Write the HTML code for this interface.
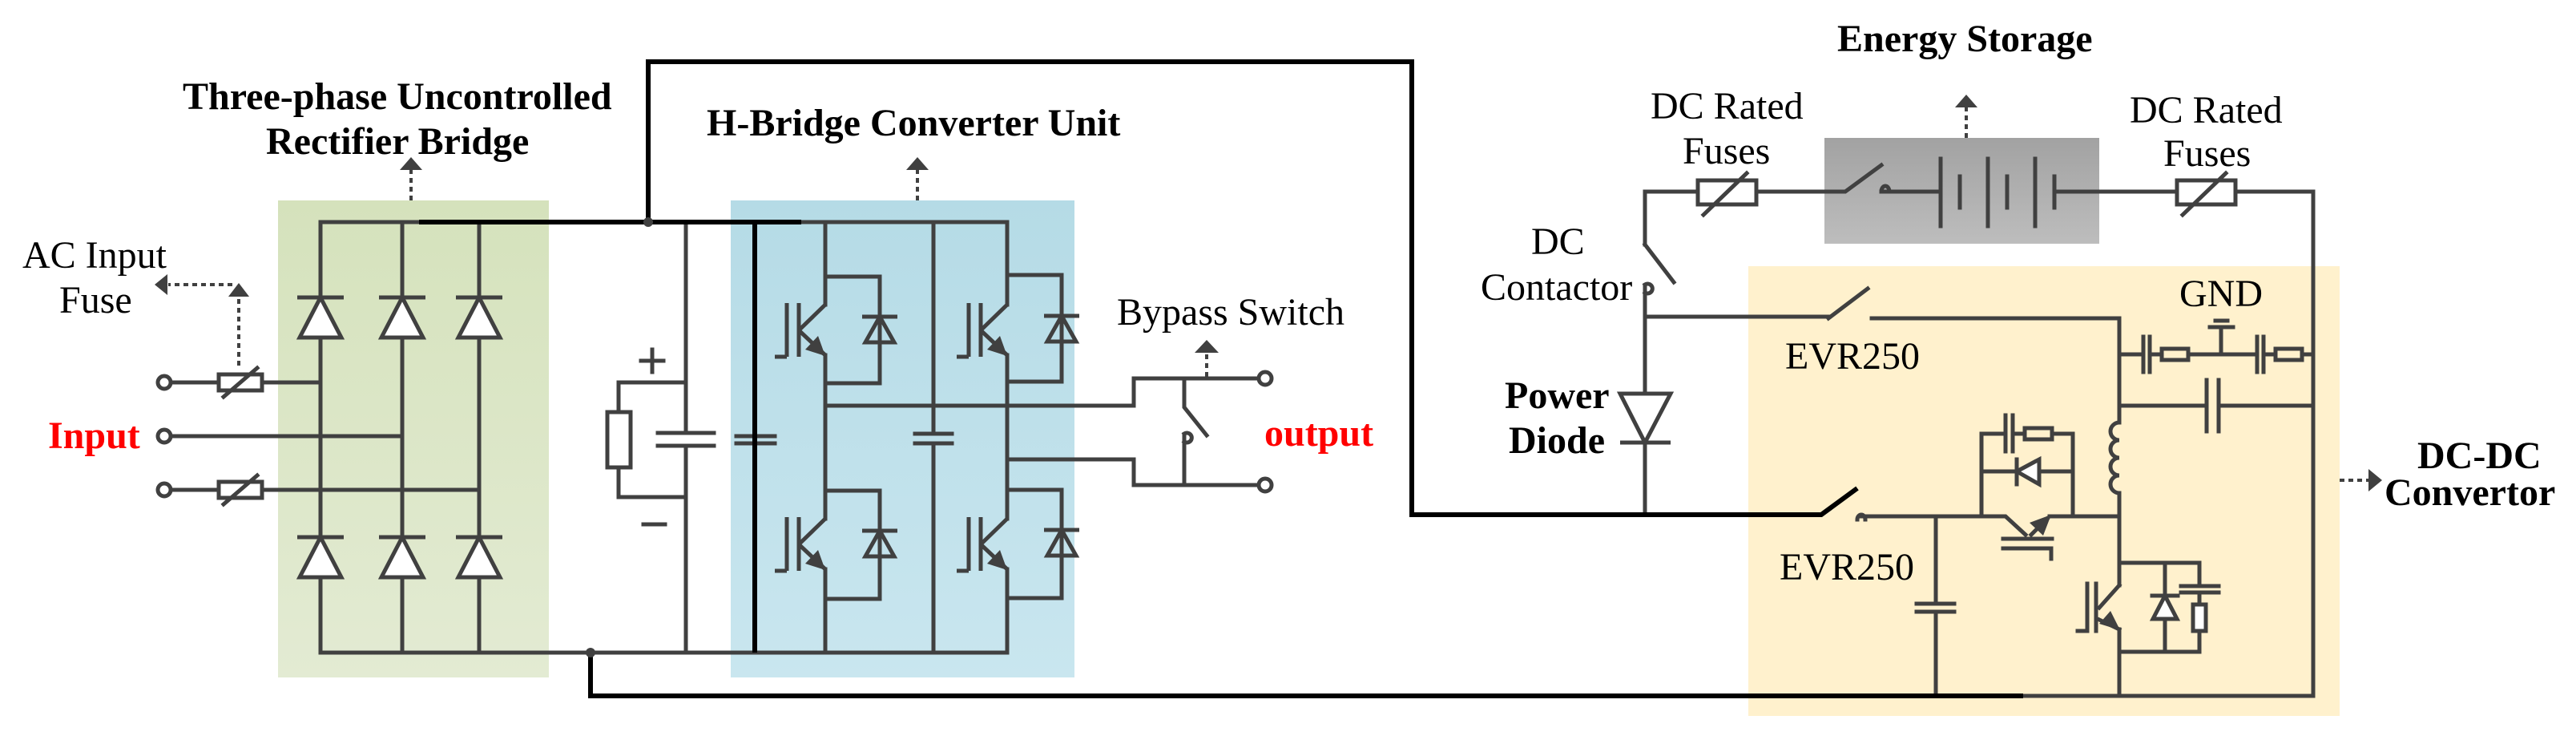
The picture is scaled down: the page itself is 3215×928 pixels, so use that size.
<!DOCTYPE html>
<html><head><meta charset="utf-8"><style>
html,body{margin:0;padding:0;background:#fff;}
svg{display:block;}
text{font-family:"Liberation Serif","DejaVu Serif",serif;font-size:48px;fill:#000;}
.b{font-weight:bold;}
.r{fill:#ff0000;font-weight:bold;}
</style></head><body>
<svg width="3215" height="928" viewBox="0 0 3215 928" xmlns="http://www.w3.org/2000/svg">
<defs>
<linearGradient id="gg" x1="0" y1="0" x2="0" y2="1"><stop offset="0" stop-color="#d5e2bc"/><stop offset="1" stop-color="#e3ebd3"/></linearGradient>
<linearGradient id="gb" x1="0" y1="0" x2="0" y2="1"><stop offset="0" stop-color="#b5dbe6"/><stop offset="1" stop-color="#c9e6ef"/></linearGradient>
<linearGradient id="gs" x1="0" y1="0" x2="0" y2="1"><stop offset="0" stop-color="#a2a2a2"/><stop offset="1" stop-color="#bdbdbd"/></linearGradient>
<g id="igbt" fill="none" stroke="#404040" stroke-width="5">
<line x1="0" y1="0" x2="-33" y2="32"/>
<line x1="-33" y1="-2" x2="-33" y2="65"/>
<line x1="-48" y1="-2" x2="-48" y2="65"/>
<line x1="-63" y1="65" x2="-48" y2="65"/>
<line x1="-33" y1="32" x2="0" y2="63"/>
<polygon points="0,64 -25,56 -9,39" fill="#404040" stroke="none"/>
</g>
<g id="dup" fill="none" stroke="#404040" stroke-width="5">
<polygon points="-18,32 18,32 0,0"/>
<line x1="-22" y1="0" x2="22" y2="0"/>
</g>
<g id="rdiode" fill="#fff" stroke="#404040" stroke-width="5">
<polygon points="-26,50 26,50 0,0"/>
<line x1="-29" y1="0" x2="29" y2="0"/>
</g>
</defs>

<rect x="347" y="250" width="338" height="595" fill="url(#gg)"/>
<rect x="912" y="250" width="429" height="595" fill="url(#gb)"/>
<rect x="2182" y="332" width="738" height="561" fill="#fff1cd"/>
<rect x="2277" y="172" width="343" height="132" fill="url(#gs)"/>

<g fill="none" stroke="#404040" stroke-width="5" stroke-linecap="square">
<path d="M400 277 H1257 M400 814 H1257"/>
<path d="M400 277 V814 M502 277 V814 M598 277 V814"/>
<path d="M213 477 H273 M327 477 H400 M213 544 H502 M213 611 H273 M327 611 H598"/>
<rect x="273" y="467" width="54" height="20"/>
<rect x="273" y="601" width="54" height="20"/>
<line x1="279" y1="495" x2="321" y2="459"/>
<line x1="279" y1="629" x2="321" y2="593"/>
<path d="M856 277 V540 M856 556 V814 M821 540 H891 M821 556 H891"/>
<path d="M856 477 H772 V514 M772 583 V620 H856"/>
<rect x="758" y="514" width="29" height="69"/>
<path d="M919 544 H967 M919 553 H967"/>
<path d="M800 450 H828 M814 436 V464 M803 654 H830"/>
<path d="M1030 277 V380 M1030 443 V647 M1030 710 V814"/>
<path d="M1257 277 V380 M1257 443 V647 M1257 710 V814"/>
<path d="M1030 345 H1098 V478 H1030 M1030 612 H1098 V747 H1030"/>
<path d="M1257 343 H1325 V476 H1257 M1257 611 H1325 V746 H1257"/>
<path d="M1165 277 V541 M1165 553 V814 M1142 541 H1188 M1142 553 H1188"/>
<path d="M1030 506 H1415 V472 H1571 M1257 573 H1415 V605 H1571"/>
<path d="M1478 472 V508 L1506 543 M1478 605 V543"/>
<path d="M1478 551 a6 6 0 1 0 0 -10"/>
<path d="M2053 642 V552 M2053 491 V395 H2282 M2336 397 H2645 M2282 397 L2331 360"/>
<path d="M2053 395 V357 M2053 305 V239 H2119 M2192 239 H2303 L2348 206 M2348 239 H2422"/>
<path d="M2053 305 L2089 352"/>
<rect x="2119" y="225" width="73" height="30"/>
<line x1="2126" y1="268" x2="2180" y2="216"/>
<path d="M2422 198 V282 M2446 220 V259 M2481 198 V282 M2505 220 V259 M2540 198 V282 M2564 220 V259"/>
<path d="M2564 239 H2717 M2790 239 H2887 V868 H2525"/>
<rect x="2717" y="225" width="73" height="30"/>
<line x1="2724" y1="268" x2="2778" y2="216"/>
<path d="M2645 397 V527 M2645 615 V730 M2645 785 V868"/>
<path d="M2645 527 a11 11 0 0 0 0 22 a11 11 0 0 0 0 22 a11 11 0 0 0 0 22 a11 11 0 0 0 0 22"/>
<path d="M2645 442 H2675 M2683 442 H2698 M2731 442 H2817 M2825 442 H2840 M2873 442 H2887"/>
<path d="M2675 420 V464 M2683 420 V464 M2817 420 V464 M2825 420 V464"/>
<rect x="2698" y="435" width="33" height="14"/>
<rect x="2840" y="435" width="33" height="14"/>
<path d="M2772 442 V408 M2758 408 H2787 M2765 400 H2780"/>
<path d="M2645 506 H2754 M2769 506 H2887 M2754 474 V538 M2769 474 V538"/>
<path d="M2323 644 H2503 L2528 667 M2558 644 H2645 M2535 667 L2555 647"/>
<polygon points="2560,642 2533,652 2550,668" fill="#404040" stroke="none"/>
<path d="M2500 672 H2561 M2500 684 H2560 V697"/>
<path d="M2473 644 V541 H2503 M2512 541 H2527 M2561 541 H2587 V644 M2473 588 H2517 M2545 588 H2587"/>
<path d="M2503 518 V563 M2512 518 V563"/>
<rect x="2527" y="534" width="34" height="14"/>
<path d="M2517 573 V604"/>
<polygon points="2517,588 2545,573 2545,604" fill="#fff"/>
<path d="M2416 644 V753 M2416 763 V868 M2392 753 H2439 M2392 763 H2439"/>
<path d="M2645 702 H2745 V731 M2745 739 V754 M2745 787 V813 H2645 M2702 702 V813 M2722 731 H2769 M2722 739 H2769"/>
<rect x="2737" y="754" width="16" height="33" fill="#fff"/>
<polygon points="2687,772 2717,772 2702,743" fill="#fff"/>
<path d="M2686 743 H2718"/>
<path d="M2645 730 L2620 758 M2620 773 L2645 785 M2616 728 V787 M2605 728 V787 H2593"/>
<polygon points="2646,786 2620,778 2634,762" fill="#404040" stroke="none"/>
<path d="M2318 648 a5 6 0 1 1 10 0"/>
<path d="M2348 239 a5 7 0 1 1 10 0"/>
<path d="M2053 365 a6 6 0 1 0 0 -10"/>
</g>

<use href="#rdiode" x="400" y="371"/><use href="#rdiode" x="502" y="371"/><use href="#rdiode" x="598" y="371"/>
<use href="#rdiode" x="400" y="670"/><use href="#rdiode" x="502" y="670"/><use href="#rdiode" x="598" y="670"/>
<use href="#dup" x="1098" y="395"/><use href="#dup" x="1098" y="662"/>
<use href="#dup" x="1325" y="394"/><use href="#dup" x="1325" y="661"/>
<use href="#igbt" x="1030" y="380"/><use href="#igbt" x="1030" y="647"/>
<use href="#igbt" x="1257" y="380"/><use href="#igbt" x="1257" y="647"/>
<g fill="#fff" stroke="#404040" stroke-width="5">
<polygon points="2022,491 2085,491 2053,552"/>
<line x1="2022" y1="552" x2="2085" y2="552"/>
<circle cx="205" cy="477" r="8"/><circle cx="205" cy="544" r="8"/><circle cx="205" cy="611" r="8"/>
<circle cx="1579" cy="472" r="8"/><circle cx="1579" cy="605" r="8"/>
</g>

<g fill="none" stroke="#000" stroke-width="6">
<path d="M809 277 V77 H1762 V642 H2273 L2318 609"/>
<path d="M737 814 V868 H2525"/>
<path d="M523 277 H1000 M942 277 V814"/>
</g>
<circle cx="809" cy="277" r="6" fill="#404040"/>
<circle cx="737" cy="814" r="6" fill="#404040"/>

<g stroke="#404040" stroke-width="4" stroke-dasharray="6,5" fill="none">
<path d="M513 250 V210"/>
<path d="M298 456 V370 M290 355 H210"/>
<path d="M1145 250 V210"/>
<path d="M1506 470 V440"/>
<path d="M2454 172 V132"/>
<path d="M2920 599 H2957"/>
</g>
<g fill="#404040">
<polygon points="513,196 499,212 527,212"/>
<polygon points="298,353 285,370 311,370"/>
<polygon points="193,355 209,342 209,368"/>
<polygon points="1145,196 1131,212 1159,212"/>
<polygon points="1506,424 1491,440 1521,440"/>
<polygon points="2454,118 2440,134 2468,134"/>
<polygon points="2973,599 2956,585 2956,613"/>
</g>

<text class="b" x="228" y="136">Three-phase Uncontrolled</text>
<text class="b" x="332" y="192">Rectifier Bridge</text>
<text class="b" x="882" y="169">H-Bridge Converter Unit</text>
<text x="28" y="334">AC Input</text>
<text x="74" y="390">Fuse</text>
<text class="r" x="60" y="559">Input</text>
<text class="r" x="1578" y="556">output</text>
<text x="1394" y="405">Bypass Switch</text>
<text x="1911" y="317">DC</text>
<text x="1848" y="374">Contactor</text>
<text class="b" x="1878" y="509">Power</text>
<text class="b" x="1883" y="565">Diode</text>
<text class="b" x="2293" y="64">Energy Storage</text>
<text x="2060" y="148">DC Rated</text>
<text x="2100" y="204">Fuses</text>
<text x="2658" y="153">DC Rated</text>
<text x="2700" y="207">Fuses</text>
<text x="2720" y="382">GND</text>
<text x="2228" y="460">EVR250</text>
<text x="2221" y="723">EVR250</text>
<text class="b" x="3017" y="584">DC-DC</text>
<text class="b" x="2976" y="630">Convertor</text>
</svg>
</body></html>
